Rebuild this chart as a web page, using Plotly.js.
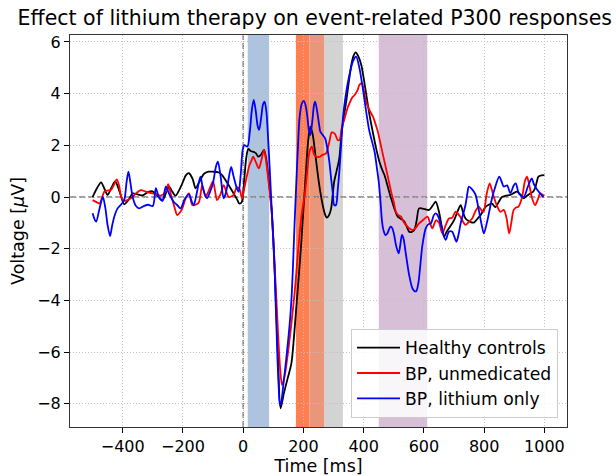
<!DOCTYPE html>
<html>
<head>
<meta charset="utf-8">
<script src="https://cdn.plot.ly/plotly-3.0.1.min.js"></script>
<style>html,body{margin:0;padding:0;background:#fff;}#chart{width:616px;height:476px;}</style>
</head>
<body>
<div id="chart"></div>
<script>
// ---- data ----
const seriesNames = ["Healthy controls", "BP, unmedicated", "BP, lithium only"];
const seriesColors = ["#000000", "#ff0000", "#0000ff"];

const timeHC = [-500,-485,-472,-460,-450,-438,-425,-410,-395,-380,-367,-350,-334,-315,-301,-285,-268,-255,-246,-235,-225,-205,-190,-180,-168,-158,-145,-130,-115,-100,-81,-70,-59,-45,-32,-20,-13,-5,3,10,17,25,33,42,50,60,69,76,83,94,105,115,124,135,148,160,168,176,185,193,201,209,216,223,231,240,248,256,264,271,278,285,292,302,310,319,326,334,342,350,359,366,373,382,392,400,408,419,430,441,452,460,469,480,491,502,513,524,535,545,551,560,568,576,584,600,617,628,639,650,660,667,675,683,700,712,722,730,738,752,766,777,788,804,815,826,837,848,859,872,887,898,909,920,931,942,953,962,969,975,980,990,1000];
const valHC = [0,0.35,0.57,0.3,0.08,0.35,0.6,0.2,-0.28,-0.1,0.14,0.1,0.06,0.2,0.22,0.05,-0.12,0.2,0.4,0.2,0.05,0.45,0.85,0.92,0.7,0.34,0.6,0.9,0.98,0.98,0.95,0.85,0.66,0.4,0.14,-0.1,-0.25,-0.2,0.6,1.5,1.86,1.78,1.75,1.7,1.56,1.65,1.82,1.5,0.85,-0.44,-3.0,-6.0,-8.18,-7.6,-7.0,-6.44,-5.5,-4.31,-3.0,-1.73,-0.3,1.11,2.2,2.72,2.4,1.6,0.85,0.2,-0.31,-0.65,-0.8,-0.7,-0.44,0.59,1.0,1.5,2.4,3.1,3.69,4.4,5.11,5.45,5.6,5.45,5.11,4.6,4.01,3.2,2.53,1.9,1.37,1.1,0.85,0.4,-0.05,-0.45,-0.76,-0.85,-0.95,-1.2,-1.34,-1.35,-1.28,-0.9,-0.44,-0.46,-0.5,-0.35,-0.18,-0.57,-1.2,-1.54,-1.35,-1.21,-0.9,-0.55,-0.31,-0.6,-0.83,-0.95,-0.99,-0.85,-0.7,-0.39,-0.3,-0.26,-0.39,-0.2,0,0.05,0.08,0.15,0.21,0.1,-0.05,0.05,0.14,0.2,0.34,0.6,0.79,0.84,0.85];

const timeBPU = [-500,-490,-477,-468,-461,-450,-439,-428,-420,-412,-406,-395,-385,-373,-355,-340,-323,-301,-285,-274,-257,-249,-240,-228,-219,-210,-202,-191,-180,-169,-158,-147,-136,-125,-116,-109,-100,-93,-87,-76,-65,-56,-48,-32,-21,-12,-4,3,12,20,27,33,42,52,60,69,76,83,94,105,116,123,129,138,149,160,171,180,187,195,204,212,220,228,235,242,252,262,275,286,294,304,314,320,327,337,345,353,362,370,380,386,394,401,408,419,431,440,447,458,469,480,491,500,507,515,524,532,540,550,562,572,584,596,612,620,628,640,650,661,672,683,694,705,720,738,750,760,771,782,790,798,808,818,825,832,843,854,865,874,883,890,898,907,914,925,935,942,950,958,969,978,986,995,1000];
const valBPU = [-0.12,-0.18,-0.25,0.0,0.21,0.25,0.27,0.5,0.68,0.45,0.05,-0.15,-0.12,-0.05,0.15,0.27,0.21,0.14,0.1,0.05,0.21,0.5,0.1,-0.4,-0.7,-0.6,-0.44,-0.05,0.14,-0.31,-0.3,-0.2,0.46,0.0,0.2,0.4,0.6,0.2,-0.12,0.08,0.46,0.2,0,0.08,0.38,0.3,-0.05,0.3,0.8,1.2,1.4,1.56,1.35,1.11,1.4,1.82,1.4,0.72,-0.5,-2.76,-5.34,-6.7,-7.28,-6.9,-5.99,-4.9,-3.67,-2.4,-1.47,-0.6,0.08,0.9,1.75,1.95,1.65,1.56,1.55,1.62,1.69,2.14,2.5,2.45,2.2,2.21,2.66,3.05,3.4,3.63,3.85,3.95,4.15,4.34,4.4,4.1,3.69,3.37,3.1,2.8,2.53,1.95,1.37,0.8,0.21,-0.2,-0.57,-0.7,-0.76,-0.95,-1.08,-1.2,-1.28,-1.2,-1.02,-0.9,-0.76,-1.0,-1.21,-0.9,-1.0,-1.41,-1.1,-0.83,-0.8,-0.57,-0.75,-1.08,-0.95,-0.83,-0.55,-0.37,-0.5,-0.57,0.1,0.53,0.3,0.0,-0.35,-0.57,-0.5,-0.8,-1.41,-1.0,-0.5,-0.4,-0.37,-0.05,0.6,0.79,0.45,0.0,-0.31,-0.1,0.14,0.08,0.05];

const timeBPL = [-500,-492,-488,-478,-466,-458,-450,-442,-435,-428,-417,-406,-395,-387,-381,-375,-367,-356,-345,-330,-315,-300,-290,-280,-268,-257,-245,-230,-220,-208,-195,-180,-170,-164,-155,-142,-133,-120,-110,-101,-90,-84,-75,-65,-59,-50,-40,-32,-20,-15,-8,-2,4,14,22,29,35,42,48,53,60,66,71,77,82,88,94,100,105,113,118,122,127,132,143,154,160,165,170,176,182,187,194,201,207,213,218,223,230,235,239,247,252,256,264,272,279,286,292,298,302,308,314,320,325,331,340,348,356,364,375,386,397,410,418,425,436,443,450,456,461,466,472,479,483,489,494,500,508,516,521,527,532,540,551,562,570,575,582,587,595,606,615,623,633,639,645,655,672,683,694,700,708,715,722,738,745,749,760,771,782,793,799,810,826,837,850,858,865,876,887,898,905,915,931,945,958,965,975,985,997];
const valBPL = [-0.63,-0.9,-0.95,-0.5,0.0,-0.4,-1.1,-1.51,-1.1,-0.76,-0.44,-0.3,-0.12,0.6,0.98,0.6,0.0,-0.35,-0.44,-0.35,-0.3,-0.35,0.34,0.0,-0.15,0.4,0.1,-0.2,-0.3,-0.44,-0.1,0.1,-0.2,-0.31,0.1,0.79,0.3,-0.05,0.2,0.5,1.2,1.37,0.8,-0.05,0.1,0.6,1.17,0.8,0.3,0.2,0.9,1.8,2.01,1.95,2.53,3.4,3.76,3.3,2.75,2.6,3.1,3.6,3.69,3.3,2.4,1.11,-0.31,-1.6,-3.02,-5.99,-7.4,-8.05,-7.9,-7.41,-6.25,-4.96,-4.0,-2.76,-1.2,0.46,2.0,3.05,3.6,3.72,3.55,3.1,2.6,2.4,3.0,3.55,3.69,3.2,2.8,2.53,2.4,2.27,1.9,1.37,0.7,0.1,-0.31,-0.31,0.3,1.11,2.0,3.05,3.9,4.46,4.9,5.24,5.43,4.98,4.21,3.17,2.6,2.27,1.76,1.2,0.59,-0.2,-0.96,-1.3,-1.47,-1.4,-1.28,-1.15,-1.19,-1.4,-1.9,-2.18,-1.9,-1.47,-1.6,-2.2,-3.02,-3.54,-3.65,-3.64,-3.3,-2.76,-1.86,-1.21,-1.05,-1.02,-0.7,-0.63,-0.7,-1.0,-1.66,-1.34,-1.34,-1.5,-1.73,-1.45,-1.02,-0.31,0.2,0.4,0.3,0.1,-0.5,-1.15,-1.41,-0.95,-0.05,0.4,0.79,0.6,0.4,0.45,0.15,0.45,0.53,0.15,0.0,0.4,0.72,0.5,0.3,0.15,0.0];

// shaded time windows (ms)
const windowStart = [15, 175, 220, 270, 450];
const windowEnd   = [86, 220, 270, 331, 611];
const windowColor = ["rgb(174,196,222)", "rgb(255,127,80)", "rgb(233,150,122)", "rgb(211,211,211)", "rgb(216,191,216)"];

const xTicks = [-400, -200, 0, 200, 400, 600, 800, 1000];
const yTicks = [-8, -6, -4, -2, 0, 2, 4, 6];

// ---- build ----
const times = [timeHC, timeBPU, timeBPL];
const vals = [valHC, valBPU, valBPL];
const traces = seriesNames.map((n, i) => ({
  x: times[i], y: vals[i], name: n, type: "scatter", mode: "lines",
  line: {color: seriesColors[i], width: 1.8, shape: "spline", smoothing: 0.8}
}));

const shapes = windowStart.map((s, i) => ({
  type: "rect", xref: "x", yref: "paper", x0: s, x1: windowEnd[i], y0: 0, y1: 1,
  fillcolor: windowColor[i], line: {width: 0}, layer: "below"
}));
shapes.push({type: "line", xref: "x", yref: "paper", x0: 0, x1: 0, y0: 0, y1: 1,
  line: {color: "#808080", width: 1.5, dash: "6px,3px"}, layer: "between"});
shapes.push({type: "line", xref: "paper", yref: "y", x0: 0, x1: 1, y0: 0, y1: 0,
  line: {color: "#808080", width: 1.5, dash: "6px,3px"}, layer: "between"});

const font = {family: "DejaVu Sans", size: 16, color: "#000"};
const titleFont = {family: "DejaVu Sans", size: 17.5, color: "#000"};
const legendFont = {family: "DejaVu Sans", size: 17.2, color: "#000"};
const layout = {
  width: 616, height: 476,
  margin: {l: 70, r: 49, t: 35, b: 49},
  paper_bgcolor: "#fff", plot_bgcolor: "#fff",
  font: font,
  title: {text: "Effect of lithium therapy on event-related P300 responses",
    font: {family: "DejaVu Sans", size: 20.5, color: "#000"},
    x: 0.511, xanchor: "center", y: 0.962, yanchor: "middle"},
  xaxis: {range: [-575, 1075], tickvals: xTicks, ticks: "outside", ticklen: 5, tickcolor: "#000",
    showgrid: true, gridcolor: "#c0c0c0", griddash: "1px,2px", gridwidth: 1, zeroline: false,
    showline: true, mirror: true, linecolor: "#333", linewidth: 1,
    title: {text: "Time [ms]", font: titleFont, standoff: 0}, tickfont: font},
  yaxis: {range: [-8.9, 6.27], tickvals: yTicks, ticks: "outside", ticklen: 5, tickcolor: "#000",
    showgrid: true, gridcolor: "#c0c0c0", griddash: "1px,2px", gridwidth: 1, zeroline: false,
    showline: true, mirror: true, linecolor: "#333", linewidth: 1,
    title: {text: "Voltage [<i>μ</i>V]", font: titleFont, standoff: 8}, tickfont: font},
  shapes: shapes,
  showlegend: true,
  legend: {x: 0.982, xanchor: "right", y: 0.023, yanchor: "bottom",
    bgcolor: "rgba(255,255,255,0.85)", bordercolor: "#cccccc", borderwidth: 1,
    font: legendFont, tracegroupgap: 0, itemwidth: 43}
};

Plotly.newPlot("chart", traces, layout, {displayModeBar: false, staticPlot: true});
</script>
</body>
</html>
